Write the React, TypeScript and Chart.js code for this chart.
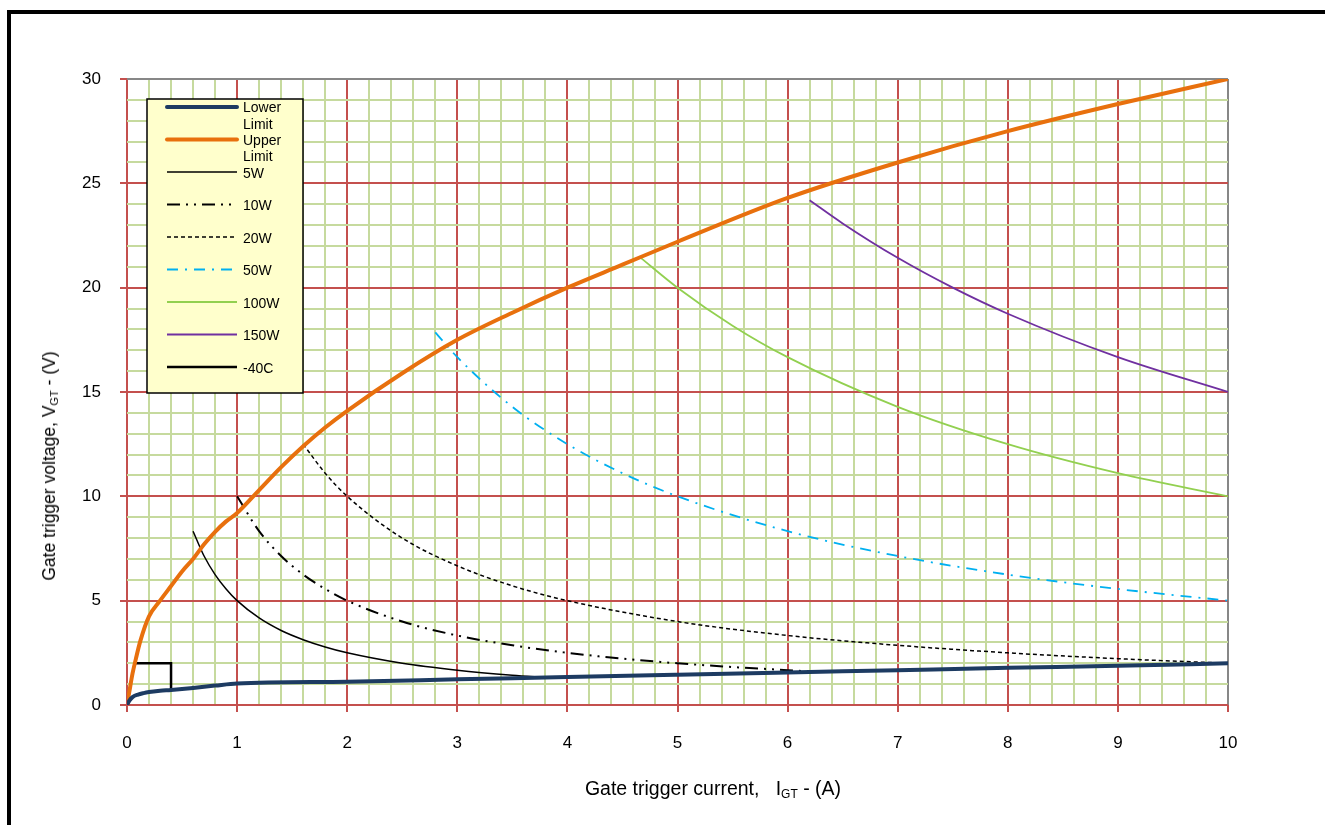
import React, { useEffect, useRef } from "react";
import { Chart, registerables } from "chart.js";

Chart.register(...registerables);

// ---------- data (current I in A, voltage V in V) ----------
const lowerLimitI = [0, 0.02, 0.05, 0.1, 0.15, 0.2, 0.3, 0.4, 0.6, 0.8, 1.0, 2.0, 3.0, 4.0, 5.0, 6.0, 7.0, 8.0, 9.0, 10.0];
const lowerLimitV = [0, 0.2, 0.38, 0.5, 0.57, 0.62, 0.68, 0.72, 0.82, 0.93, 1.03, 1.12, 1.23, 1.34, 1.45, 1.56, 1.67, 1.78, 1.88, 2.0];

const upperLimitI = [0, 0.02, 0.05, 0.08, 0.12, 0.2, 0.3, 0.4, 0.5, 0.6, 0.7, 0.8, 0.9, 1.0, 1.2, 1.4, 1.6, 1.8, 2.0, 2.5, 3.0, 3.5, 4.0, 4.5, 5.0, 6.0, 7.0, 8.0, 9.0, 10.0];
const upperLimitV = [0, 0.6, 1.5, 2.2, 3.05, 4.25, 5.0, 5.7, 6.4, 7.0, 7.7, 8.3, 8.8, 9.2, 10.3, 11.4, 12.4, 13.3, 14.1, 15.9, 17.5, 18.8, 20.0, 21.1, 22.2, 24.3, 26.0, 27.5, 28.8, 30.0];

const w5I = [0.6, 0.7, 0.8, 0.9, 1.0, 1.2, 1.4, 1.6, 1.8, 2.0, 2.5, 3.0, 3.5, 3.8];
const w5V = [8.33, 7.14, 6.25, 5.56, 5.0, 4.17, 3.57, 3.13, 2.78, 2.5, 2.0, 1.67, 1.43, 1.32];

const w10I = [1.0, 1.2, 1.4, 1.6, 1.8, 2.0, 2.5, 3.0, 3.5, 4.0, 4.5, 5.0, 5.5, 6.0, 6.2];
const w10V = [10.0, 8.33, 7.14, 6.25, 5.56, 5.0, 4.0, 3.33, 2.86, 2.5, 2.22, 2.0, 1.82, 1.67, 1.61];

const w20I = [1.6, 1.8, 2.0, 2.5, 3.0, 3.5, 4.0, 5.0, 6.0, 7.0, 8.0, 9.0, 10.0];
const w20V = [12.5, 11.11, 10.0, 8.0, 6.67, 5.71, 5.0, 4.0, 3.33, 2.86, 2.5, 2.22, 2.0];

const w50I = [2.8, 3.0, 3.5, 4.0, 4.5, 5.0, 6.0, 7.0, 8.0, 9.0, 10.0];
const w50V = [17.86, 16.67, 14.29, 12.5, 11.11, 10.0, 8.33, 7.14, 6.25, 5.56, 5.0];

const w100I = [4.65, 5.0, 5.5, 6.0, 7.0, 8.0, 9.0, 10.0];
const w100V = [21.5, 20.0, 18.18, 16.67, 14.29, 12.5, 11.11, 10.0];

const w150I = [6.2, 6.5, 7.0, 7.5, 8.0, 9.0, 10.0];
const w150V = [24.19, 23.08, 21.43, 20.0, 18.75, 16.67, 15.0];

const minus40I = [0.07, 0.4, 0.4];
const minus40V = [2.0, 2.0, 0.72];

const xTickMax = 10;
const yTickMax = 30;

const FONT = '"Liberation Sans", Arial, sans-serif';
const RED = "#c4504e";
const GREEN = "#c6da9e";
const GRAY = "#878787";

const zip = (xs: number[], ys: number[]) => xs.map((x, i) => ({ x, y: ys[i] }));
const isMult = (v: number, m: number) => Math.abs(v / m - Math.round(v / m)) < 1e-6;

const legendPlugin = {
  id: "boxLegend",
  afterDraw(chart: any) {
    const ctx: CanvasRenderingContext2D = chart.ctx;
    const area = chart.chartArea;
    const bx = area.left + 20;
    const by = area.top + 20;
    const bw = 156;
    const bh = 294;
    ctx.save();
    ctx.fillStyle = "#ffffcc";
    ctx.fillRect(bx, by, bw, bh);
    ctx.strokeStyle = "#000";
    ctx.lineWidth = 1.5;
    ctx.strokeRect(bx, by, bw, bh);
    ctx.font = `14px ${FONT}`;
    ctx.textBaseline = "middle";
    ctx.textAlign = "left";
    chart.data.datasets.forEach((ds: any, i: number) => {
      const ly = by + 8 + i * 32.5;
      ctx.beginPath();
      ctx.strokeStyle = ds.borderColor;
      ctx.lineWidth = ds.borderWidth;
      ctx.lineCap = ds.borderWidth >= 3 ? "round" : "butt";
      ctx.setLineDash(ds.borderDash || []);
      ctx.moveTo(bx + 20, ly);
      ctx.lineTo(bx + 90, ly);
      ctx.stroke();
      ctx.setLineDash([]);
      ctx.fillStyle = "#000";
      const label: string = ds.label;
      if (ctx.measureText(label).width > 58) {
        const parts = label.split(" ");
        ctx.fillText(parts[0], bx + 96, ly + 1.5);
        ctx.fillText(parts.slice(1).join(" "), bx + 96, ly + 18);
      } else {
        ctx.fillText(label, bx + 96, ly + 2);
      }
    });
    ctx.restore();
  },
};

export default function App() {
  const canvasRef = useRef<HTMLCanvasElement | null>(null);

  useEffect(() => {
    if (!canvasRef.current) return;
    const base = { pointRadius: 0, pointHoverRadius: 0, fill: false, cubicInterpolationMode: "monotone" as const };
    const chart = new Chart(canvasRef.current, {
      type: "line",
      data: {
        datasets: [
          { ...base, label: "Lower Limit", data: zip(lowerLimitI, lowerLimitV), borderColor: "#1d3b62", borderWidth: 4, borderCapStyle: "round" },
          { ...base, label: "Upper Limit", data: zip(upperLimitI, upperLimitV), borderColor: "#e8700d", borderWidth: 4, borderCapStyle: "round" },
          { ...base, label: "5W", data: zip(w5I, w5V), borderColor: "#000000", borderWidth: 1.5 },
          { ...base, label: "10W", data: zip(w10I, w10V), borderColor: "#000000", borderWidth: 2, borderDash: [13, 6, 2, 6, 2, 6] },
          { ...base, label: "20W", data: zip(w20I, w20V), borderColor: "#000000", borderWidth: 1.5, borderDash: [4, 3] },
          { ...base, label: "50W", data: zip(w50I, w50V), borderColor: "#00b0f0", borderWidth: 1.8, borderDash: [11, 7, 2, 7] },
          { ...base, label: "100W", data: zip(w100I, w100V), borderColor: "#92d050", borderWidth: 1.8 },
          { ...base, label: "150W", data: zip(w150I, w150V), borderColor: "#7030a0", borderWidth: 1.8 },
          { ...base, label: "-40C", data: zip(minus40I, minus40V), borderColor: "#000000", borderWidth: 2.5, tension: 0, cubicInterpolationMode: "default" },
        ] as any,
      },
      options: {
        animation: false,
        responsive: false,
        maintainAspectRatio: false,
        devicePixelRatio: 1,
        layout: { padding: { left: 0, right: 97, top: 79, bottom: 0 } },
        plugins: { legend: { display: false }, tooltip: { enabled: false } },
        scales: {
          x: {
            type: "linear",
            min: 0,
            max: xTickMax,
            afterFit: (s: any) => { s.height = 120; },
            ticks: {
              stepSize: 0.2,
              autoSkip: false,
              maxRotation: 0,
              padding: 21,
              color: "#000",
              font: { family: FONT, size: 17 },
              callback: (v: any) => (isMult(Number(v), 1) ? String(Math.round(Number(v))) : ""),
            },
            grid: {
              lineWidth: 2,
              tickLength: 7,
              color: (c: any) => {
                const v = c.tick ? c.tick.value : 0;
                if (Math.abs(v - xTickMax) < 1e-6) return GRAY;
                return isMult(v, 1) ? RED : GREEN;
              },
              tickColor: (c: any) => (c.tick && isMult(c.tick.value, 1) ? RED : "rgba(0,0,0,0)"),
            },
            border: { display: false },
          },
          y: {
            type: "linear",
            min: 0,
            max: yTickMax,
            afterFit: (s: any) => { s.width = 127; },
            ticks: {
              stepSize: 1,
              autoSkip: false,
              padding: 19,
              color: "#000",
              font: { family: FONT, size: 17 },
              callback: (v: any) => (isMult(Number(v), 5) ? String(Math.round(Number(v))) : ""),
            },
            grid: {
              lineWidth: 2,
              tickLength: 7,
              color: (c: any) => {
                const v = c.tick ? c.tick.value : 0;
                if (Math.abs(v - yTickMax) < 1e-6) return GRAY;
                return isMult(v, 5) ? RED : GREEN;
              },
              tickColor: (c: any) => (c.tick && isMult(c.tick.value, 5) ? RED : "rgba(0,0,0,0)"),
            },
            border: { display: false },
          },
        },
      } as any,
      plugins: [legendPlugin],
    });
    return () => chart.destroy();
  }, []);

  const subX: React.CSSProperties = { fontSize: 12, position: "relative", top: 3 };
  const subY: React.CSSProperties = { fontSize: 11, position: "relative", top: 3 };

  return (
    <div style={{ position: "fixed", left: 0, top: 0, width: 1325, height: 825, overflow: "hidden", background: "#fff", fontFamily: FONT }}>
      <div style={{ position: "absolute", left: 7, top: 10, width: 1400, height: 900, border: "4px solid #000", boxSizing: "border-box" }} />
      <canvas ref={canvasRef} width={1325} height={825} style={{ position: "absolute", left: 0, top: 0, width: 1325, height: 825 }} />
      <div style={{ position: "absolute", left: 713, top: 789, transform: "translate(-50%, -50%)", whiteSpace: "nowrap", fontSize: 19.5, lineHeight: "22px", color: "#000" }}>
        Gate trigger current,&nbsp;&nbsp; I<span style={subX}>GT</span> - (A)
      </div>
      <div style={{ position: "absolute", left: 50, top: 466, transform: "translate(-50%, -50%) rotate(-90deg)", whiteSpace: "nowrap", fontSize: 17.5, lineHeight: "20px", color: "#000" }}>
        Gate trigger voltage, V<span style={subY}>GT</span> - (V)
      </div>
    </div>
  );
}
